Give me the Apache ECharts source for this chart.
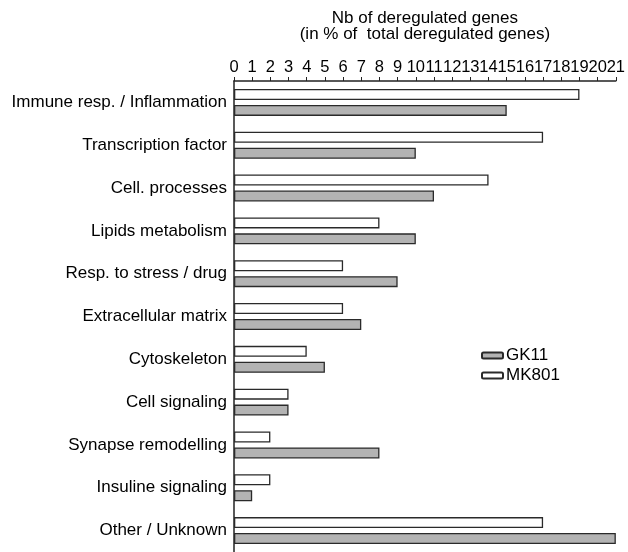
<!DOCTYPE html>
<html><head><meta charset="utf-8">
<script src="https://cdn.jsdelivr.net/npm/echarts@6/dist/echarts.min.js"></script>
<style>html,body{margin:0;padding:0;background:#fff}#c{width:628px;height:552px}</style>
</head><body><div id="c"></div>
<script>
const categories = ["Immune resp. / Inflammation","Transcription factor","Cell. processes","Lipids metabolism","Resp. to stress / drug","Extracellular matrix","Cytoskeleton","Cell signaling","Synapse remodelling","Insuline signaling","Other / Unknown"];
const mk801 = [19,17,14,8,6,6,4,3,2,2,17];
const gk11 = [15,10,11,10,9,7,5,3,8,1,21];
const seriesNames = ["MK801","GK11"];
const legendOrder = ["GK11","MK801"];
const axisMin = 0, axisMax = 21, axisStep = 1;
const axisTitle = "Nb of deregulated genes\n(in % of  total deregulated genes)";

const FONT = "'Liberation Sans', Arial, sans-serif";
const chart = echarts.init(document.getElementById('c'));
chart.setOption({
  animation: false,
  backgroundColor: '#fff',
  textStyle: {fontFamily: FONT, color: '#000'},
  grid: {left: 234, right: 9, top: 81, height: 473, containLabel: false},
  legend: {
    data: legendOrder, orient: 'vertical', left: 476, top: 342, padding: 5,
    itemWidth: 21, itemHeight: 6, itemGap: 3,
    textStyle: {fontFamily: FONT, fontSize: 17, color: '#000', padding: [0,0,0,-2]},
    selectedMode: false
  },
  xAxis: {
    type: 'value', position: 'top', min: axisMin, max: axisMax, interval: axisStep,
    name: axisTitle, nameLocation: 'middle', nameGap: 39,
    nameTextStyle: {fontFamily: FONT, fontSize: 17, color: '#000', lineHeight: 16},
    axisLine: {show: true, lineStyle: {color: '#222', width: 1.5}},
    axisTick: {show: true, length: 4, lineStyle: {color: '#222', width: 1}},
    axisLabel: {fontFamily: FONT, fontSize: 16.5, color: '#000', margin: 5, hideOverlap: false},
    splitLine: {show: false}
  },
  yAxis: {
    type: 'category', inverse: true, data: categories,
    axisLine: {show: true, lineStyle: {color: '#222', width: 1.5}},
    axisTick: {show: false},
    axisLabel: {fontFamily: FONT, fontSize: 17, color: '#000', margin: 7, interval: 0}
  },
  series: [
    {name: seriesNames[0], type: 'bar', data: mk801, barWidth: 11, barGap: '45%',
     itemStyle: {color: '#ffffff', borderColor: '#2a2a2a', borderWidth: 1.3}},
    {name: seriesNames[1], type: 'bar', data: gk11, barWidth: 11, barGap: '45%',
     itemStyle: {color: '#b3b3b3', borderColor: '#2a2a2a', borderWidth: 1.3}}
  ]
});
</script></body></html>
